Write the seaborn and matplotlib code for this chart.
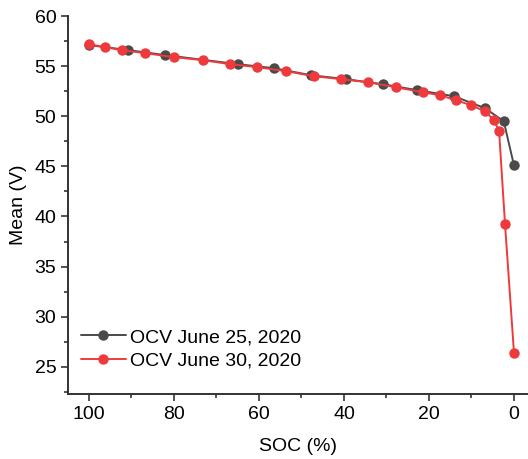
# OCV vs SOC for the two test days

import pandas as pd
import matplotlib
matplotlib.use("Agg")
import matplotlib.pyplot as plt
from matplotlib.ticker import MultipleLocator
import seaborn as sns

soc_0625 = [100, 90.7, 82.0, 65.0, 56.5, 47.8, 39.5, 30.9, 22.7, 14.1, 6.8, 2.4, 0.0]
ocv_0625 = [57.1, 56.6, 56.1, 55.2, 54.8, 54.1, 53.7, 53.2, 52.6, 52.0, 50.8, 49.5, 45.1]

soc_0630 = [100, 96.2, 92.3, 86.8, 80.0, 73.2, 66.8, 60.4, 53.6, 47.1, 40.7, 34.4,
            27.8, 21.5, 17.4, 13.6, 10.1, 6.8, 4.7, 3.5, 2.1, 0.0]
ocv_0630 = [57.2, 56.9, 56.6, 56.3, 55.9, 55.6, 55.2, 54.9, 54.5, 54.0, 53.7, 53.4,
            52.9, 52.4, 52.1, 51.6, 51.1, 50.5, 49.6, 48.5, 39.2, 26.4]

labels = ["OCV June 25, 2020", "OCV June 30, 2020"]
colors = ["#4a4a4a", "#ee3a3d"]


def main():
    df = pd.concat([
        pd.DataFrame({"soc": soc_0625, "ocv": ocv_0625, "run": labels[0]}),
        pd.DataFrame({"soc": soc_0630, "ocv": ocv_0630, "run": labels[1]}),
    ], ignore_index=True)

    sns.set_style("ticks")
    plt.rcParams["font.family"] = ["Liberation Sans", "DejaVu Sans"]
    plt.rcParams["text.color"] = "black"
    plt.rcParams["axes.labelcolor"] = "black"
    plt.rcParams["xtick.labelcolor"] = "black"
    plt.rcParams["ytick.labelcolor"] = "black"

    fig = plt.figure(figsize=(5.28, 4.59), dpi=100)
    ax = fig.add_axes([0.129, 0.142, 0.871, 0.823])

    sns.lineplot(data=df, x="soc", y="ocv", hue="run", hue_order=labels,
                 palette=colors, sort=False, marker="o", markersize=7.5,
                 markeredgewidth=0, linewidth=1.4, ax=ax)

    ax.set_xlim(104.9, -3.3)
    ax.set_ylim(22.3, 60)
    ax.xaxis.set_major_locator(MultipleLocator(20))
    ax.xaxis.set_minor_locator(MultipleLocator(10))
    ax.yaxis.set_major_locator(MultipleLocator(5))
    ax.yaxis.set_minor_locator(MultipleLocator(2.5))
    ax.tick_params(which="major", direction="out", length=5, width=1.2,
                   labelsize=14, color="#333333")
    ax.tick_params(which="minor", direction="out", length=3, width=1.2,
                   color="#333333")
    for side in ["left", "bottom"]:
        ax.spines[side].set_linewidth(1.4)
        ax.spines[side].set_color("#333333")
    sns.despine(ax=ax)

    ax.set_xlabel("SOC (%)", fontsize=14, labelpad=11)
    ax.set_ylabel("Mean (V)", fontsize=14, labelpad=5)

    ax.legend(title=None, frameon=False, loc="lower left", fontsize=14,
              bbox_to_anchor=(-0.01, 0.018), handlelength=2.3,
              handletextpad=0.2, labelspacing=0.3)

    fig.savefig("out.png", dpi=100)
    plt.close(fig)


if __name__ == "__main__":
    main()
